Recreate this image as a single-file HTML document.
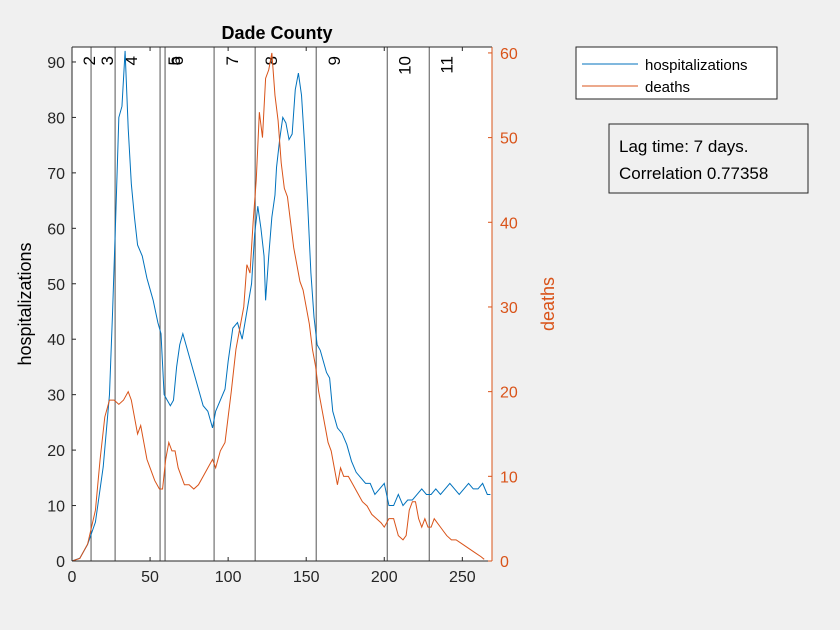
<!DOCTYPE html>
<html><head><meta charset="utf-8"><style>
body{margin:0;background:#f0f0f0;}
svg{display:block;font-family:"Liberation Sans",sans-serif;}
</style></head><body>
<svg id="c" width="840" height="630">
<rect x="0" y="0" width="840" height="630" fill="#f0f0f0"/>
<rect x="72" y="47" width="420" height="514" fill="#fff"/>
<g id="grid"></g>
<g id="series"></g>
<g id="axes"></g>
<text x="277" y="39" text-anchor="middle" font-size="18" font-weight="bold" fill="#000">Dade County</text>
<text transform="translate(31,304) rotate(-90)" text-anchor="middle" font-size="18" fill="#000">hospitalizations</text>
<text transform="translate(554,304) rotate(-90)" text-anchor="middle" font-size="18" fill="#D95319">deaths</text>
<g>
<rect x="576" y="47" width="201" height="52" fill="#fff" stroke="#262626" stroke-width="1"/>
<line x1="582" y1="64" x2="638" y2="64" stroke="#0072BD" stroke-width="1"/>
<text x="645" y="70" font-size="15">hospitalizations</text>
<line x1="582" y1="86" x2="638" y2="86" stroke="#D95319" stroke-width="1"/>
<text x="645" y="92" font-size="15">deaths</text>
</g>
<g>
<rect x="609" y="124" width="199" height="69" fill="#f0f0f0" stroke="#262626" stroke-width="1"/>
<text x="619" y="152" font-size="17">Lag time: 7 days.</text>
<text x="619" y="179" font-size="17">Correlation 0.77358</text>
</g>
</svg>
<script>
const hospDays=[0,5,10,15,20,24,26,28,30,32,34,36,38,40,42,45,48,50,52,55,57,59,61,63,65,67,69,71,73,75,78,81,84,87,90,92,95,98,100,103,106,109,112,115,117,119,121,123,124,126,128,130,131,133,135,137,139,141,143,145,147,149,151,153,155,157,159,161,163,165,167,170,173,176,179,182,185,188,191,194,197,200,203,206,209,212,215,218,221,224,227,230,233,236,239,242,245,248,251,254,257,260,263,266,268];
const hospValues=[0,0.5,3,7,17,30,45,62,80,82,92,78,68,62,57,55,51,49,47,43,41,30,29,28,29,35,39,41,39,37,34,31,28,27,24,27,29,31,36,42,43,40,45,50,59,64,60,55,47,55,62,66,71,76,80,79,76,77,85,88,84,75,64,52,44,39,38,36,34,33,27,24,23,21,18,16,15,14,14,12,13,14,10,10,12,10,11,11,12,13,12,12,13,12,13,14,13,12,13,14,13,13,14,12,12];
const deathDays=[0,5,10,15,18,21,24,27,30,33,36,38,40,42,44,46,48,50,53,56,58,60,62,64,66,68,70,72,75,78,81,84,87,90,92,95,98,100,102,105,108,110,112,114,116,118,120,122,124,126,128,130,132,134,136,138,140,142,144,146,148,150,152,154,156,158,160,162,164,166,168,170,172,174,177,180,183,186,189,192,195,198,200,203,206,209,212,214,216,218,220,222,224,226,228,230,232,234,236,238,240,243,246,250,254,258,262,264];
const deathValues=[0,0.3,2,6,12,17,19,19,18.5,19,20,19,17,15,16,14,12,11,9.5,8.5,8.5,12,14,13,13,11,10,9,9,8.5,9,10,11,12,11,13,14,17,20,25,28,30,35,34,40,45,53,50,57,58,60,55,52,47,44,43,40,37,35,33,32,30,28,25,23,20,18,16,14,13,11,9,11,10,10,9,8,7,6.5,5.5,5,4.5,4,5,5,3,2.5,3,6,7,7,5,4,5,4,4,5,4.5,4,3.5,3,2.5,2.5,2,1.5,1,0.5,0.2];
const eventDays=[12.2,27.6,56.4,59.6,91,117.3,156.4,201.9,228.8];
const eventLabels=["2","3","4","5","6","7","8","9","10","11"];
const labelDays=[10.9,22.4,37.8,65.4,67.3,102.6,127.6,167.9,212.8,239.7];
const xTicks=[0,50,100,150,200,250];
const yLeftTicks=[0,10,20,30,40,50,60,70,80,90];
const yRightTicks=[0,10,20,30,40,50,60];

const NS="http://www.w3.org/2000/svg";
const L=72,R=492,T=47,B=561;
const X=d=>L+(d-0)*(R-L)/269;
const YL=v=>B-v*(B-T)/92.7;
const YR=v=>B-v*(B-T)/60.7;
function mk(tag,attrs,parent){const e=document.createElementNS(NS,tag);for(const k in attrs)e.setAttribute(k,attrs[k]);parent.appendChild(e);return e;}
const grid=document.getElementById('grid'),ser=document.getElementById('series'),ax=document.getElementById('axes');
eventDays.forEach((d,i)=>{
 const ln=mk('line',{x1:X(d),x2:X(d),y1:T,y2:B,stroke:'#555','stroke-width':1},grid);
 
 
});
eventLabels.forEach((t,i)=>{
 const x=X(labelDays[i])+6, y=T+9;
 const tx=mk('text',{transform:`translate(${x},${y}) rotate(-90)`,'font-size':17,fill:'#000','text-anchor':'end'},grid);
 tx.textContent=t;
 
 
});
const hp=mk('polyline',{points:hospDays.map((d,i)=>X(d)+','+YL(hospValues[i])).join(' '),fill:'none',stroke:'#0072BD','stroke-width':1},ser);


const dp=mk('polyline',{points:deathDays.map((d,i)=>X(d)+','+YR(deathValues[i])).join(' '),fill:'none',stroke:'#D95319','stroke-width':1},ser);


const bx=mk('line',{x1:L,x2:R,y1:B,y2:B,stroke:'#262626'},ax);


mk('line',{x1:L,x2:R,y1:T,y2:T,stroke:'#262626'},ax);
const yl=mk('line',{x1:L,x2:L,y1:T,y2:B,stroke:'#262626'},ax);


const yr=mk('line',{x1:R,x2:R,y1:T,y2:B,stroke:'#D95319'},ax);


xTicks.forEach(t=>{
 mk('line',{x1:X(t),x2:X(t),y1:B,y2:B-4,stroke:'#262626'},ax);
 mk('line',{x1:X(t),x2:X(t),y1:T,y2:T+4,stroke:'#262626'},ax);
 const tx=mk('text',{x:X(t),y:B+21,'text-anchor':'middle','font-size':16,fill:'#262626'},ax);
 tx.textContent=t;
 
 
});
yLeftTicks.forEach(t=>{
 mk('line',{x1:L,x2:L+4,y1:YL(t),y2:YL(t),stroke:'#262626'},ax);
 const tx=mk('text',{x:L-7,y:YL(t)+6,'text-anchor':'end','font-size':16,fill:'#262626'},ax);
 tx.textContent=t;
 
 
});
yRightTicks.forEach(t=>{
 mk('line',{x1:R,x2:R-4,y1:YR(t),y2:YR(t),stroke:'#D95319'},ax);
 const tx=mk('text',{x:R+8,y:YR(t)+6,'text-anchor':'start','font-size':16,fill:'#D95319'},ax);
 tx.textContent=t;
 
 
});
</script>
</body></html>
